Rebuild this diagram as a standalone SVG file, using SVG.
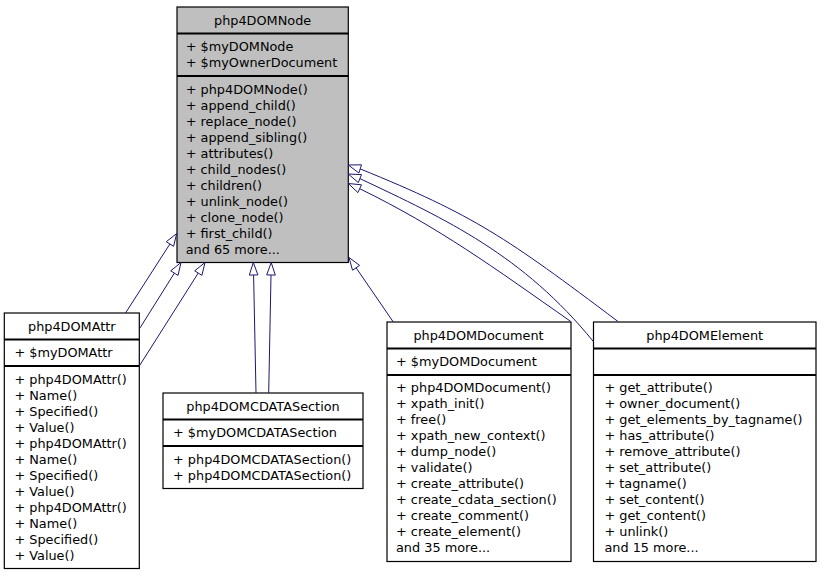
<svg xmlns="http://www.w3.org/2000/svg" width="821" height="576" viewBox="0 0 821 576">
<style>
  .box { fill: #ffffff; stroke: #000000; stroke-width: 1.2; }
  .base { fill: #bfbfbf; stroke: #000000; stroke-width: 1.2; }
  .sep { stroke: #000000; stroke-width: 1.8; fill: none; }
  text { font-family: "DejaVu Sans", "Liberation Sans", sans-serif; font-size: 12.85px; fill: #000000; }
  .title { text-anchor: middle; }
  .edge { fill: none; stroke: #191970; stroke-width: 1; }
  .arrow { fill: #ffffff; stroke: #191970; stroke-width: 1; }
</style>
<rect width="821" height="576" fill="#ffffff"/>

<g id="php4DOMNode">
  <rect class="base" x="177" y="7" width="171.3" height="255.5"/>
  <line class="sep" x1="177" y1="33.5" x2="348.3" y2="33.5"/>
  <line class="sep" x1="177" y1="76" x2="348.3" y2="76"/>
  <text class="title" x="262.6" y="24.75">php4DOMNode</text>
  <text x="185.7" y="51.25">+ $myDOMNode<tspan x="185.7" dy="16">+ $myOwnerDocument</tspan></text>
  <text x="185.7" y="93.75">+ php4DOMNode()<tspan x="185.7" dy="16">+ append_child()</tspan><tspan x="185.7" dy="16">+ replace_node()</tspan><tspan x="185.7" dy="16">+ append_sibling()</tspan><tspan x="185.7" dy="16">+ attributes()</tspan><tspan x="185.7" dy="16">+ child_nodes()</tspan><tspan x="185.7" dy="16">+ children()</tspan><tspan x="185.7" dy="16">+ unlink_node()</tspan><tspan x="185.7" dy="16">+ clone_node()</tspan><tspan x="185.7" dy="16">+ first_child()</tspan><tspan x="185.7" dy="16">and 65 more...</tspan></text>
</g>

<g id="php4DOMAttr">
  <rect class="box" x="4.3" y="313" width="135" height="255.5"/>
  <line class="sep" x1="4.3" y1="339.5" x2="139.3" y2="339.5"/>
  <line class="sep" x1="4.3" y1="366" x2="139.3" y2="366"/>
  <text class="title" x="71.8" y="330.75">php4DOMAttr</text>
  <text x="14.4" y="357.25">+ $myDOMAttr</text>
  <text x="14.4" y="383.75">+ php4DOMAttr()<tspan x="14.4" dy="16">+ Name()</tspan><tspan x="14.4" dy="16">+ Specified()</tspan><tspan x="14.4" dy="16">+ Value()</tspan><tspan x="14.4" dy="16">+ php4DOMAttr()</tspan><tspan x="14.4" dy="16">+ Name()</tspan><tspan x="14.4" dy="16">+ Specified()</tspan><tspan x="14.4" dy="16">+ Value()</tspan><tspan x="14.4" dy="16">+ php4DOMAttr()</tspan><tspan x="14.4" dy="16">+ Name()</tspan><tspan x="14.4" dy="16">+ Specified()</tspan><tspan x="14.4" dy="16">+ Value()</tspan></text>
</g>

<g id="php4DOMCDATASection">
  <rect class="box" x="163" y="393" width="200" height="95.5"/>
  <line class="sep" x1="163" y1="419.5" x2="363" y2="419.5"/>
  <line class="sep" x1="163" y1="446" x2="363" y2="446"/>
  <text class="title" x="263" y="410.75">php4DOMCDATASection</text>
  <text x="173" y="437.25">+ $myDOMCDATASection</text>
  <text x="173" y="463.75">+ php4DOMCDATASection()<tspan x="173" dy="16">+ php4DOMCDATASection()</tspan></text>
</g>

<g id="php4DOMDocument">
  <rect class="box" x="387" y="322" width="184" height="239.5"/>
  <line class="sep" x1="387" y1="348.5" x2="571" y2="348.5"/>
  <line class="sep" x1="387" y1="375" x2="571" y2="375"/>
  <text class="title" x="478.5" y="339.75">php4DOMDocument</text>
  <text x="396" y="366.25">+ $myDOMDocument</text>
  <text x="396" y="392.25">+ php4DOMDocument()<tspan x="396" dy="16">+ xpath_init()</tspan><tspan x="396" dy="16">+ free()</tspan><tspan x="396" dy="16">+ xpath_new_context()</tspan><tspan x="396" dy="16">+ dump_node()</tspan><tspan x="396" dy="16">+ validate()</tspan><tspan x="396" dy="16">+ create_attribute()</tspan><tspan x="396" dy="16">+ create_cdata_section()</tspan><tspan x="396" dy="16">+ create_comment()</tspan><tspan x="396" dy="16">+ create_element()</tspan><tspan x="396" dy="16">and 35 more...</tspan></text>
</g>

<g id="php4DOMElement">
  <rect class="box" x="593.5" y="322" width="222.5" height="239.5"/>
  <line class="sep" x1="593.5" y1="348.5" x2="816" y2="348.5"/>
  <line class="sep" x1="593.5" y1="375" x2="816" y2="375"/>
  <text class="title" x="704.7" y="339.75">php4DOMElement</text>
  <text x="604.4" y="392.25">+ get_attribute()<tspan x="604.4" dy="16">+ owner_document()</tspan><tspan x="604.4" dy="16">+ get_elements_by_tagname()</tspan><tspan x="604.4" dy="16">+ has_attribute()</tspan><tspan x="604.4" dy="16">+ remove_attribute()</tspan><tspan x="604.4" dy="16">+ set_attribute()</tspan><tspan x="604.4" dy="16">+ tagname()</tspan><tspan x="604.4" dy="16">+ set_content()</tspan><tspan x="604.4" dy="16">+ get_content()</tspan><tspan x="604.4" dy="16">+ unlink()</tspan><tspan x="604.4" dy="16">and 15 more...</tspan></text>
</g>

<g id="connectors">
  <!-- php4DOMAttr -> php4DOMNode (x3) -->
  <path class="edge" d="M125.5,313 L169.9,244"/>
  <polygon class="arrow" points="176.7,233.5 166.3,241.7 173.6,246.3"/>
  <path class="edge" d="M139.3,329 L174.4,273.1"/>
  <polygon class="arrow" points="181,262.5 170.7,270.8 178,275.4"/>
  <path class="edge" d="M139.3,366 L198.3,273"/>
  <polygon class="arrow" points="205,262.5 194.7,270.8 201.9,275.4"/>
  <!-- php4DOMCDATASection -> php4DOMNode (x2) -->
  <path class="edge" d="M256,393 L253.6,275"/>
  <polygon class="arrow" points="253.3,262.5 249.3,275.1 257.9,274.9"/>
  <path class="edge" d="M268.7,393 L271,275"/>
  <polygon class="arrow" points="271.2,262.5 266.7,274.9 275.3,275.1"/>
  <!-- php4DOMDocument -> php4DOMNode -->
  <path class="edge" d="M393.3,322 L356.1,267.8"/>
  <polygon class="arrow" points="349,257.5 352.5,270.2 359.6,265.4"/>
  <!-- php4DOMElement -> php4DOMNode (x3) -->
  <path class="edge" d="M618,321.5 C506.4,237.5 473.7,215 360.2,168.9"/>
  <polygon class="arrow" points="348.3,165 358.9,173 361.5,164.8"/>
  <path class="edge" d="M593.5,341.7 C523.2,255.2 446.4,219.4 359.9,178.6"/>
  <polygon class="arrow" points="348.3,174 358.3,182.6 361.5,174.6"/>
  <path class="edge" d="M570.8,321.5 C492.6,266.8 439.2,227.5 359.7,188.7"/>
  <polygon class="arrow" points="348.3,183.5 357.9,192.6 361.5,184.8"/>
</g>
</svg>
